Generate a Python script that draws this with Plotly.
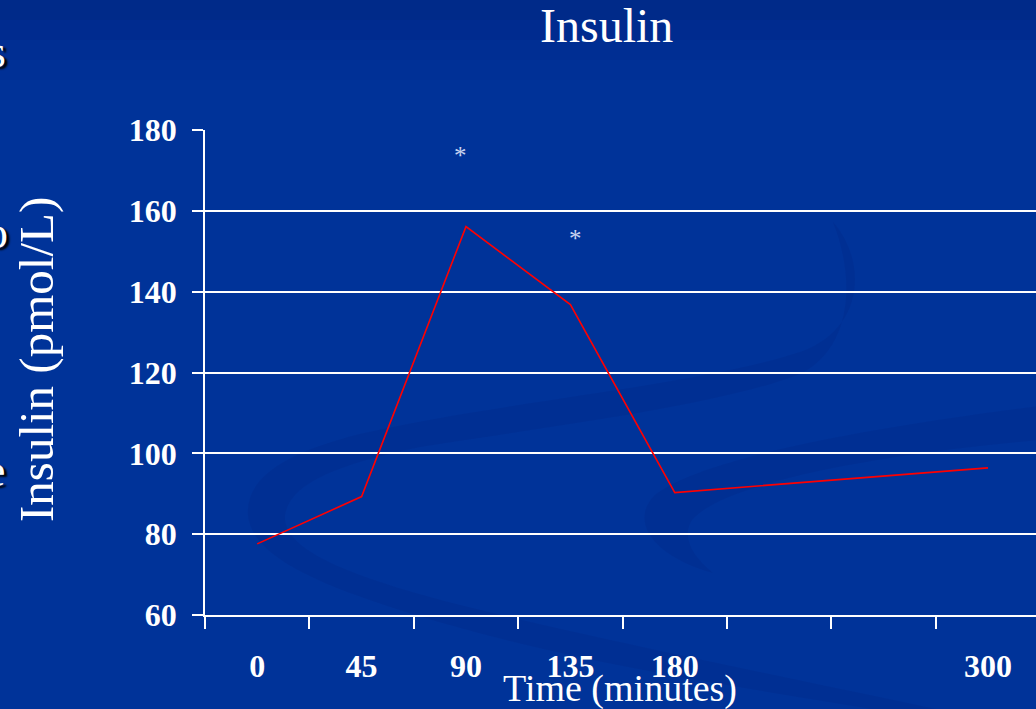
import plotly.graph_objects as go

# Sampling times (minutes) and mean insulin concentration (pmol/L)
categories = ["0", "45", "90", "135", "180", " ", "  ", "300"]
times = ["0", "45", "90", "135", "180", "300"]
insulin = [77.6, 89.3, 156.1, 136.8, 90.3, 96.4]

# Significance markers
sig_times = ["90", "135"]
sig_levels = [174.4, 153.8]
sig_shift = [-5, 5]

y_ticks = [60, 80, 100, 120, 140, 160, 180]

W, H = 1036, 709
L, R, T, B = 205, 0, 130, 94
PW, PH = W - L - R, H - T - B


def px(x, y):
    """Convert figure pixel coordinates to paper coordinates."""
    return (x - L) / PW, (H - B - y) / PH


def path(cmds):
    out = []
    for c in cmds:
        op, pts = c[0], c[1:]
        coords = " ".join("{:.4f},{:.4f}".format(*px(*p)) for p in pts)
        out.append(op + " " + coords if pts else op)
    return " ".join(out)


BG = "#003399"
SERIF = "Liberation Serif, Times New Roman, serif"

fig = go.Figure()

fig.add_trace(go.Scatter(
    x=times, y=insulin, mode="lines",
    line=dict(color="#ff0000", width=1.6),
    hoverinfo="skip", showlegend=False,
))

shapes = []
# darker band along the top of the slide
for i, a in enumerate([0.30, 0.24, 0.18, 0.12, 0.07, 0.03]):
    y0 = i * 20
    x0p, y0p = px(-10, y0)
    x1p, y1p = px(W + 10, H + 10)
    shapes.append(dict(type="rect", xref="paper", yref="paper",
                       x0=x0p, x1=x1p, y0=y0p, y1=px(0, -10)[1],
                       fillcolor="rgba(0,20,90,{})".format(a * 0.35),
                       line=dict(width=0), layer="below"))

ribbon_fill = "rgba(0,25,110,0.14)"
# left curl
shapes.append(dict(type="path", xref="paper", yref="paper", layer="below",
                   fillcolor=ribbon_fill, line=dict(width=0),
                   path=path([
                       ("M", (833, 222)),
                       ("C", (868, 262), (864, 330), (800, 352)),
                       ("C", (700, 385), (500, 402), (360, 434)),
                       ("C", (280, 454), (246, 480), (248, 515)),
                       ("C", (252, 560), (330, 590), (450, 625)),
                       ("C", (600, 668), (760, 690), (890, 712)),
                       ("L", (950, 712)),
                       ("C", (800, 680), (600, 640), (460, 605)),
                       ("C", (330, 572), (282, 545), (285, 515)),
                       ("C", (290, 485), (330, 466), (420, 447)),
                       ("C", (560, 425), (720, 405), (800, 374)),
                       ("C", (852, 348), (856, 280), (833, 222)),
                       ("Z",),
                   ])))
# right curl
shapes.append(dict(type="path", xref="paper", yref="paper", layer="below",
                   fillcolor=ribbon_fill, line=dict(width=0),
                   path=path([
                       ("M", (1040, 406)),
                       ("C", (850, 430), (700, 460), (655, 495)),
                       ("C", (630, 520), (650, 555), (713, 573)),
                       ("C", (690, 555), (682, 535), (692, 520)),
                       ("C", (725, 480), (900, 452), (1040, 440)),
                       ("Z",),
                   ])))

annotations = []
# asterisks marking significant differences (x given as category index)
for t, lvl, dx in zip(sig_times, sig_levels, sig_shift):
    annotations.append(dict(x=categories.index(t), y=lvl, xref="x", yref="y",
                            text="*", showarrow=False, xshift=dx, yshift=-3,
                            font=dict(family=SERIF, size=25, color="#c9d4f0")))

# chart title
annotations.append(dict(x=px(606.5, 0)[0], y=px(0, 25)[1], xref="paper", yref="paper",
                        text="Insulin", showarrow=False, xanchor="center", yanchor="middle",
                        font=dict(family=SERIF, size=48, color="white")))
# y-axis title
annotations.append(dict(x=px(36, 0)[0], y=px(0, 360)[1], xref="paper", yref="paper",
                        text="Insulin (pmol/L)", showarrow=False, textangle=-90,
                        xanchor="center", yanchor="middle",
                        font=dict(family=SERIF, size=49, color="white")))
# x-axis title
annotations.append(dict(x=px(620, 0)[0], y=px(0, 688)[1], xref="paper", yref="paper",
                        text="Time (minutes)", showarrow=False,
                        xanchor="center", yanchor="middle",
                        font=dict(family=SERIF, size=38, color="white")))
# clipped letters of neighbouring slide text
for ch, xc, yc in [("s", -3, 52), ("o", -4, 232), ("e", -5, 470)]:
    annotations.append(dict(x=px(xc, 0)[0], y=px(0, yc)[1], xref="paper", yref="paper",
                            text=ch, showarrow=False, xanchor="center", yanchor="middle",
                            font=dict(family=SERIF, size=46, color="white",
                                      shadow="3px 2px 2px #000000")))

fig.update_layout(
    width=W, height=H, autosize=False,
    margin=dict(l=L, r=R, t=T, b=B, pad=0),
    paper_bgcolor=BG, plot_bgcolor="rgba(0,0,0,0)",
    showlegend=False,
    shapes=shapes,
    annotations=annotations,
    xaxis=dict(
        type="category", categoryorder="array", categoryarray=categories,
        tickvals=categories, ticktext=categories,
        range=[-0.5, 7.46], tickson="boundaries",
        showgrid=False, zeroline=False,
        showline=True, linecolor="white", linewidth=1.5,
        ticks="outside", ticklen=12, tickwidth=1.5, tickcolor="white",
        tickfont=dict(family=SERIF, size=32, color="white", weight="bold"),
        ticklabelstandoff=22,
    ),
    yaxis=dict(
        range=[60, 180], tickvals=y_ticks,
        showgrid=True, gridcolor="white", gridwidth=1.5,
        zeroline=False,
        showline=True, linecolor="white", linewidth=1.5,
        ticks="outside", ticklen=11, tickwidth=1.5, tickcolor="white",
        tickfont=dict(family=SERIF, size=32, color="white", weight="bold"),
        ticklabelstandoff=9,
    ),
)

fig.write_html("out.html")
